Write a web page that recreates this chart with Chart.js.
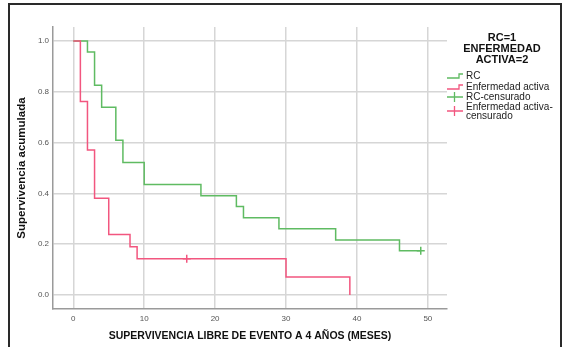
<!DOCTYPE html>
<html>
<head>
<meta charset="utf-8">
<script src="https://cdn.jsdelivr.net/npm/chart.js@4/dist/chart.umd.min.js"></script>
<style>
  html, body { margin: 0; padding: 0; background: #fff; }
  #wrap { width: 564px; height: 347px; position: relative; }
</style>
</head>
<body>
<div id="wrap"><canvas id="c" width="564" height="347"></canvas></div>
<script>
// ---- data ----
const rcTimes   = [0, 2, 3, 4, 6, 7, 10, 18, 23, 24, 29, 37, 46, 49];
const rcSurv    = [1.0, 0.957, 0.826, 0.739, 0.609, 0.522, 0.435, 0.391, 0.348, 0.304, 0.261, 0.217, 0.174, 0.174];
const eaTimes   = [0, 1, 2, 3, 5, 8, 9, 30, 39];
const eaSurv    = [1.0, 0.762, 0.571, 0.381, 0.238, 0.190, 0.143, 0.071, 0.0];
const rcCensTimes = [49];
const rcCensSurv  = [0.174];
const eaCensTimes = [16];
const eaCensSurv  = [0.143];
const xTickValues = [0, 10, 20, 30, 40, 50];
const yTickValues = [0, 0.2, 0.4, 0.6, 0.8, 1.0];
const legendTitle = ['RC=1', 'ENFERMEDAD', 'ACTIVA=2'];
const seriesNames = ['RC', 'Enfermedad activa', 'RC-censurado', ['Enfermedad activa-', 'censurado']];
const xTitle = 'SUPERVIVENCIA LIBRE DE EVENTO A 4 AÑOS (MESES)';
const yTitle = 'Supervivencia acumulada';

const GREEN = '#5fbb62';
const RED = '#f2567f';
const FONT = '"Liberation Sans", Arial, sans-serif';
const toXY = (xs, ys) => xs.map((x, i) => ({x: x, y: ys[i]}));

const framePlugin = {
  id: 'frame',
  beforeDraw(chart) {
    const ctx = chart.ctx;
    ctx.save();
    ctx.fillStyle = '#fff';
    ctx.fillRect(0, 0, chart.width, chart.height);
    ctx.strokeStyle = '#2a2a2a';
    ctx.lineWidth = 2;
    ctx.strokeRect(9, 4, 552, 360);
    ctx.restore();
  }
};

const legendPlugin = {
  id: 'kmLegend',
  afterDraw(chart) {
    const ctx = chart.ctx;
    ctx.save();
    ctx.fillStyle = '#111';
    ctx.textAlign = 'center';
    ctx.textBaseline = 'middle';
    ctx.font = 'bold 11px ' + FONT;
    const cx = 502;
    [38, 49, 59.5].forEach((y, i) => ctx.fillText(legendTitle[i], cx, y));
    ctx.font = '10px ' + FONT;
    ctx.fillStyle = '#222';
    ctx.textAlign = 'left';
    ctx.lineWidth = 1.3;
    const ix0 = 447, ix1 = 463, tx = 466;
    const stepIcon = (y, col) => {
      ctx.strokeStyle = col;
      ctx.beginPath();
      ctx.moveTo(ix0, y + 2); ctx.lineTo(459, y + 2); ctx.lineTo(459, y - 2); ctx.lineTo(ix1, y - 2);
      ctx.stroke();
    };
    const crossIcon = (y, col) => {
      ctx.strokeStyle = col;
      ctx.beginPath();
      ctx.moveTo(ix0, y); ctx.lineTo(ix1, y);
      ctx.moveTo(454.5, y - 5); ctx.lineTo(454.5, y + 5);
      ctx.stroke();
    };
    stepIcon(76, GREEN);
    ctx.fillText(seriesNames[0], tx, 76);
    stepIcon(87, RED);
    ctx.fillText(seriesNames[1], tx, 87);
    crossIcon(97, GREEN);
    ctx.fillText(seriesNames[2], tx, 97);
    crossIcon(111, RED);
    ctx.fillText(seriesNames[3][0], tx, 107);
    ctx.fillText(seriesNames[3][1], tx, 116.5);
    ctx.restore();
  }
};

new Chart(document.getElementById('c'), {
  type: 'line',
  data: {
    datasets: [
      { label: seriesNames[1], data: toXY(eaTimes, eaSurv), borderColor: RED, borderWidth: 1.5,
        stepped: 'before', pointRadius: 0, fill: false, order: 1 },
      { label: seriesNames[0], data: toXY(rcTimes, rcSurv), borderColor: GREEN, borderWidth: 1.5,
        stepped: 'before', pointRadius: 0, fill: false, order: 2 },
      { label: 'Enfermedad activa-censurado', data: toXY(eaCensTimes, eaCensSurv), borderColor: RED,
        showLine: false, pointStyle: 'cross', pointRadius: 4, pointBorderWidth: 1.5, order: 0 },
      { label: seriesNames[2], data: toXY(rcCensTimes, rcCensSurv), borderColor: GREEN,
        showLine: false, pointStyle: 'cross', pointRadius: 4, pointBorderWidth: 1.5, order: 0 }
    ]
  },
  options: {
    responsive: false,
    animation: false,
    devicePixelRatio: 1,
    layout: { padding: { left: 0, right: 117, top: 27, bottom: 0 } },
    plugins: { legend: { display: false }, tooltip: { enabled: false } },
    scales: {
      x: {
        type: 'linear', min: -2.86, max: 52.7,
        afterFit(s) { s.height = 38; },
        afterBuildTicks(s) { s.ticks = xTickValues.map(v => ({value: v})); },
        grid: { color: '#d6d6d6', lineWidth: 1.5, drawTicks: false },
        border: { display: true, color: '#9a9a9a', width: 1.5 },
        ticks: { padding: 5, color: '#555', font: { size: 8, family: FONT },
                 maxRotation: 0, callback: v => String(v) },
        title: { display: true, text: xTitle, color: '#111',
                 font: { size: 10.5, weight: 'bold', family: FONT },
                 padding: { top: 0, bottom: 4.7 } }
      },
      y: {
        type: 'linear', min: -0.055, max: 1.055,
        afterFit(s) { s.width = 53; },
        afterBuildTicks(s) { s.ticks = yTickValues.map(v => ({value: v})); },
        grid: { color: '#d6d6d6', lineWidth: 1.5, drawTicks: false },
        border: { display: true, color: '#9a9a9a', width: 1.5 },
        ticks: { padding: 4, color: '#555', font: { size: 8, family: FONT },
                 callback: v => Number(v).toFixed(1) },
        title: { display: true, text: yTitle, color: '#111',
                 font: { size: 11.5, weight: 'bold', family: FONT },
                 padding: { top: 15.1, bottom: 0 } }
      }
    }
  },
  plugins: [framePlugin, legendPlugin]
});
</script>
</body>
</html>
